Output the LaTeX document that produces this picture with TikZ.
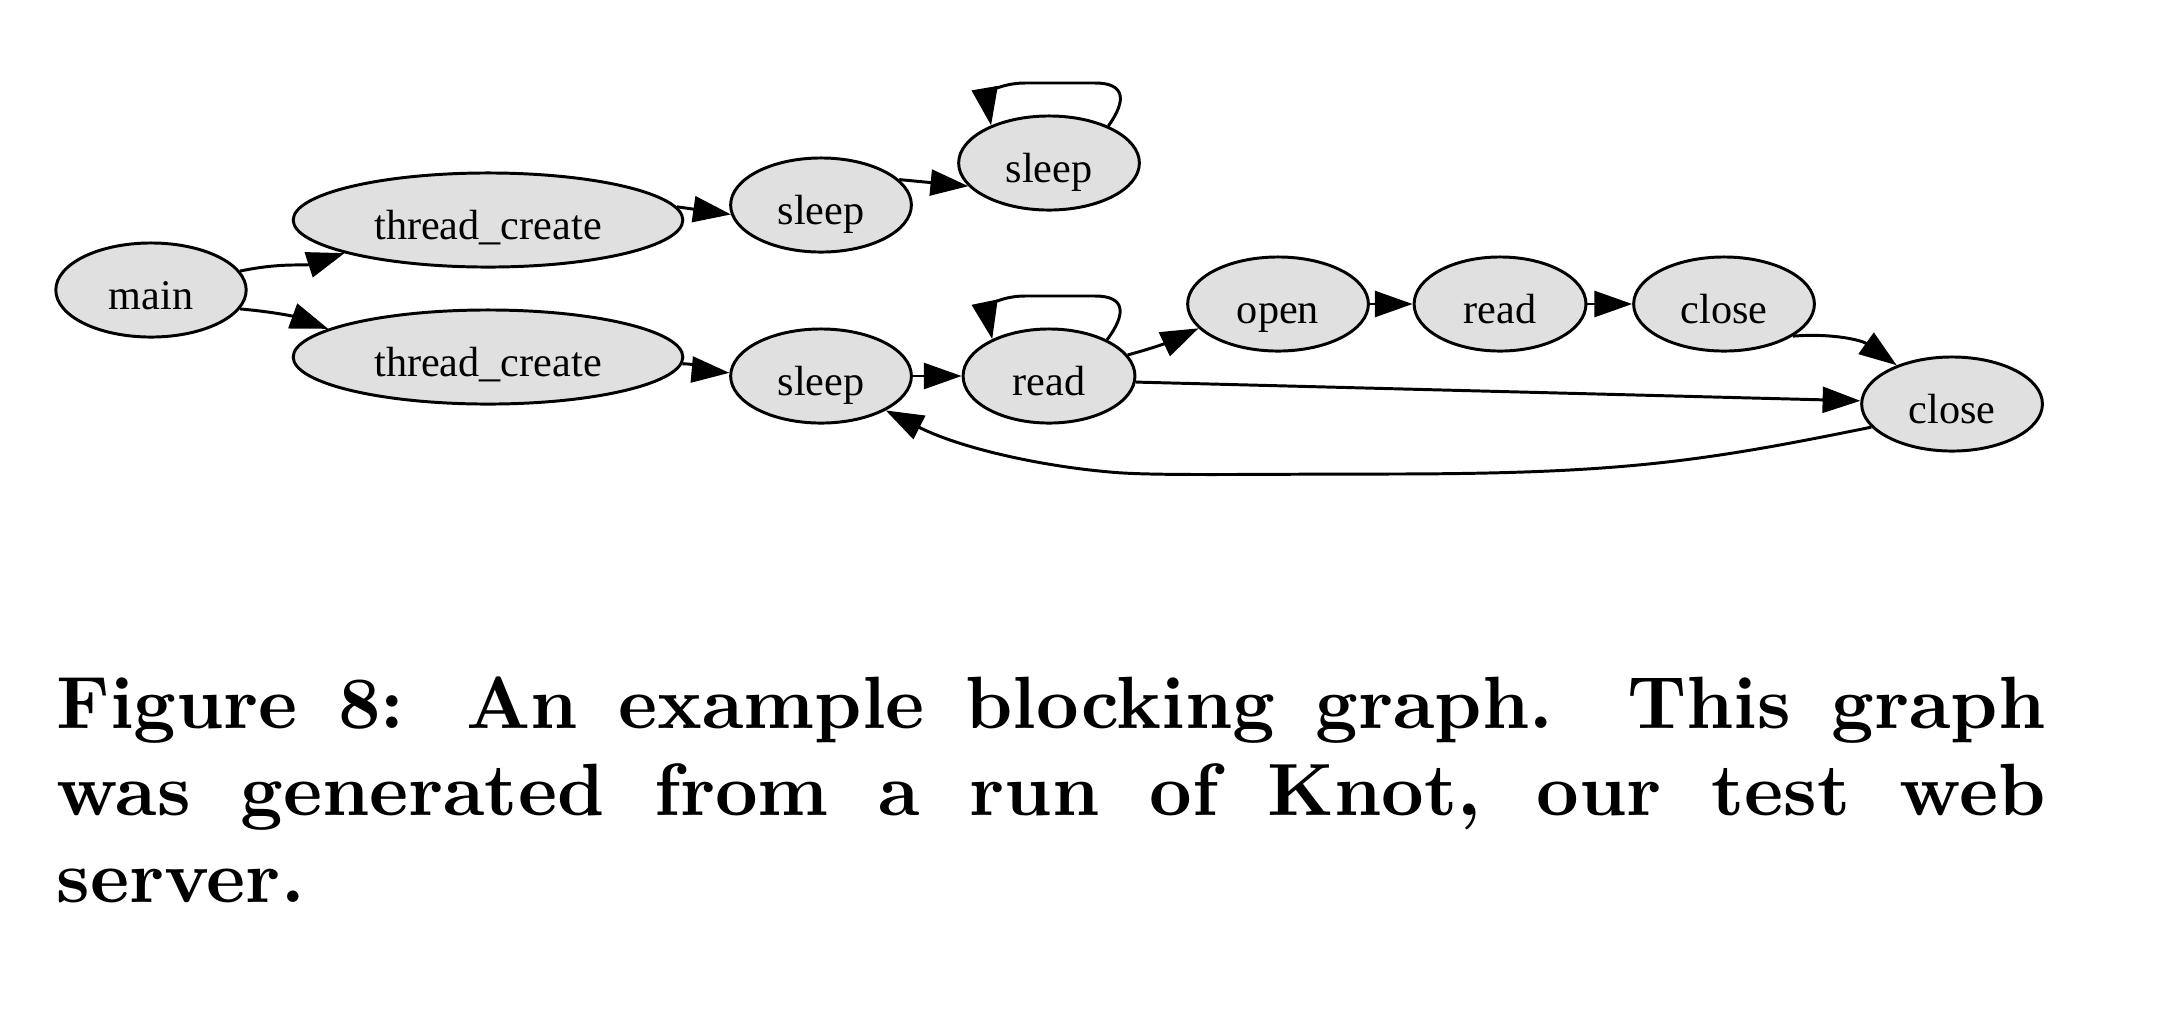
\documentclass[tikz,border=0pt]{standalone}
\usepackage{fontspec}
\newfontfamily\gvfont{Liberation Serif}
\usetikzlibrary{shapes.geometric,arrows.meta}
\definecolor{nodegray}{RGB}{224,224,224}
\tikzset{
  blk/.style={ellipse, draw, fill=nodegray, line width=0.4pt, inner sep=0pt,
    text height=5.2pt, text depth=0pt,
    minimum height=12.7pt, minimum width=24.4pt, font={\gvfont\fontsize{5.7}{6.8}\selectfont}},
  edge/.style={-{Triangle[length=5.1pt,width=3.5pt]}, line width=0.4pt},
}
\begin{document}
\begin{tikzpicture}[x=0.135pt,y=-0.135pt]
\useasboundingbox (0,0) rectangle (2168,1022);
% blocking graph
\node[blk, minimum width=25.7pt] (main) at (151,290) {main};
\node[blk, minimum width=52.6pt] (tcA) at (488,220) {thread\_create};
\node[blk, minimum width=52.6pt] (tcB) at (488,357) {thread\_create};
\node[blk] (sleepA) at (821,205) {sleep};
\node[blk] (sleepT) at (1049,163) {sleep};
\node[blk] (sleepB) at (821,376) {sleep};
\node[blk, minimum width=23.2pt] (readA) at (1049,376) {read};
\node[blk] (openA) at (1278,304) {open};
\node[blk, minimum width=23.2pt] (readB) at (1500,304) {read};
\node[blk] (closeA) at (1724,304) {close};
\node[blk] (closeB) at (1952,404) {close};
\draw[edge] (main.12) to[out=12,in=198] (tcA.193);
\draw[edge] (main.-12) to[out=-5,in=160] (tcB.170);
\draw[edge] (tcA.4) -- (sleepA.186);
\draw[edge] (sleepA.18) -- (sleepT.196);
\draw[edge] (sleepT.32) .. controls (1127,100) and (1125,83) .. (1095,83) -- (1025,83)
  .. controls (998,83) and (986,96) .. (sleepT.147);
\draw[edge] (tcB.-2) to[out=0,in=175] (sleepB.178);
\draw[edge] (sleepB) -- (readA);
\draw[edge] (readA.32) .. controls (1127,313) and (1125,296) .. (1095,296) -- (1025,296)
  .. controls (998,296) and (986,309) .. (readA.147);
\draw[edge] (readA.15) to[out=15,in=205] (openA.197);
\draw[edge] (openA) -- (readB);
\draw[edge] (readB) -- (closeA);
\draw[edge] (closeA.-25) to[bend left=20] (closeB.145);
\draw[edge] (readA.-4) -- (closeB.178);
\draw[edge] (closeB.196) .. controls (1700,462) and (1620,474) .. (1383,474)
  .. controls (1250,474) and (1150,476) .. (1110,472)
  .. controls (1040,466) and (960,448) .. (sleepB.-28);
% caption
\node[anchor=north west, inner sep=0pt, text width=268.5pt, align=justify,
  font={\bfseries\fontsize{10}{11.75}\selectfont}] (cap) at (55,675)
  {Figure 8:  An example blocking graph.  This graph\linebreak
   was generated from a run of Knot, our test web\linebreak
   server.};
\end{tikzpicture}
\end{document}
